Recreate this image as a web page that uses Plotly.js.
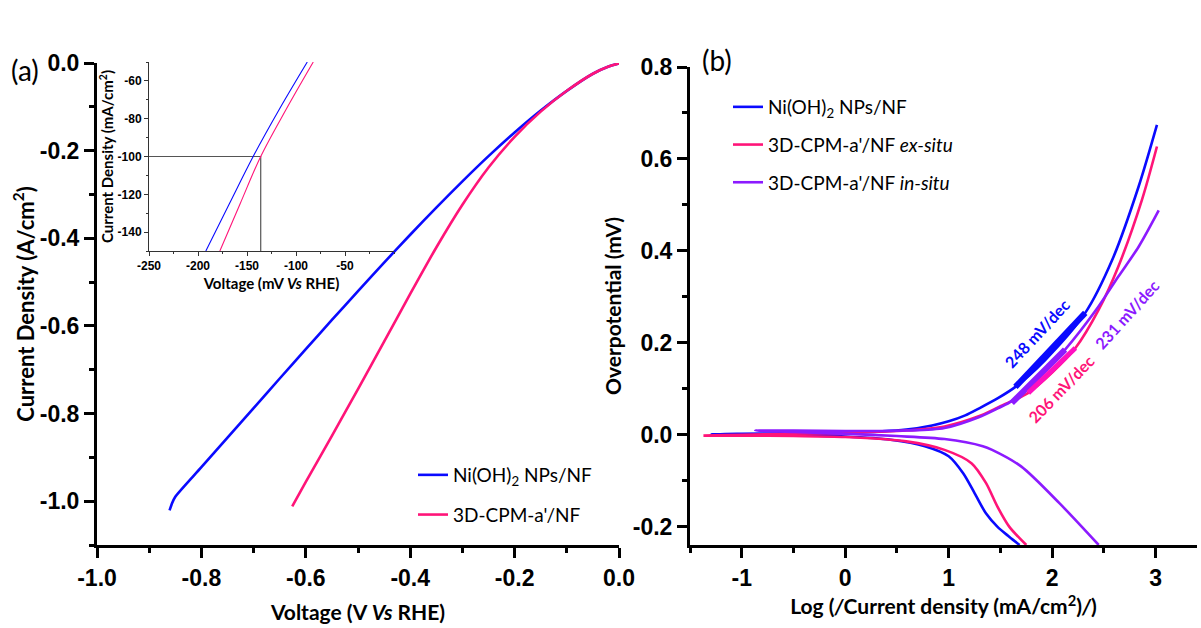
<!DOCTYPE html>
<html><head><meta charset="utf-8">
<script src="https://cdn.plot.ly/plotly-3.0.1.min.js"></script>
<style>html,body{margin:0;padding:0;background:#fff}#chart{width:1201px;height:628px}</style>
</head><body><div id="chart"></div>
<script>
// ---------- Panel (a): polarization curves ----------
const aVoltNi = [0, -0.02, -0.05, -0.1, -0.15, -0.2, -0.25, -0.3, -0.35, -0.4, -0.45, -0.5, -0.55, -0.6, -0.65, -0.7, -0.75, -0.8, -0.85, -0.856, -0.861];
const aCurNi  = [-0.001, -0.008, -0.0245, -0.0635, -0.1085, -0.1585, -0.2125, -0.270, -0.330, -0.392, -0.4555, -0.5205, -0.5865, -0.653, -0.720, -0.7875, -0.855, -0.9225, -0.990, -1.004, -1.021];
const aVoltCPM = [0, -0.02, -0.05, -0.1, -0.15, -0.2, -0.25, -0.3, -0.35, -0.4, -0.45, -0.5, -0.55, -0.6, -0.626];
const aCurCPM  = [-0.001, -0.008, -0.0245, -0.0635, -0.111, -0.1685, -0.2385, -0.3235, -0.421, -0.527, -0.636, -0.744, -0.851, -0.956, -1.012];

// inset (mV, mA/cm2)
const insetVoltNi  = [-192, -168, -143.7, -117, -88.5];
const insetCurNi   = [-150, -125, -100, -75, -50];
const insetVoltCPM = [-177.7, -157, -136, -110, -82.4];
const insetCurCPM  = [-150, -125, -100, -75, -50];
const insetRefX = [-250, -136, -136];
const insetRefY = [-100, -100, -150];

// ---------- Panel (b): Tafel plots ----------
const bLogNi = [1.685, 1.585, 1.47, 1.36, 1.25, 1.14, 1.0, 0.77, 0.44, 0.0, -0.5, -1.0, -1.3,
                -1.0, -0.5, 0.0, 0.59, 0.84, 1.0, 1.16, 1.3, 1.48, 1.645, 1.935, 2.32, 2.58, 2.836, 3.013];
const bEtaNi = [-0.24, -0.222, -0.200, -0.171, -0.127, -0.084, -0.047, -0.025, -0.011, -0.004, -0.001, 0.000, 0.001,
                0.002, 0.003, 0.004, 0.011, 0.020, 0.029, 0.042, 0.058, 0.080, 0.104, 0.163, 0.265, 0.380, 0.540, 0.674];
const bLogExSitu = [1.75, 1.585, 1.47, 1.36, 1.22, 0.96, 0.59, 0.0, -0.5, -1.0, -1.37,
                    -1.0, -0.5, 0.0, 0.59, 0.96, 1.29, 1.5, 1.77, 2.0, 2.225, 2.45, 2.64, 2.868, 3.013];
const bEtaExSitu = [-0.24, -0.200, -0.156, -0.105, -0.062, -0.033, -0.0145, -0.005, -0.003, -0.002, -0.002,
                    0.000, 0.002, 0.004, 0.009, 0.018, 0.040, 0.062, 0.091, 0.135, 0.1885, 0.272, 0.366, 0.511, 0.627];
const bLogInSitu = [2.45, 2.07, 1.70, 1.42, 1.33, 0.96, 0.5, 0.0, -0.5, -0.87,
                    -0.5, 0.0, 0.59, 0.96, 1.29, 1.48, 1.61, 1.85, 2.125, 2.42, 2.64, 2.836, 3.03];
const bEtaInSitu = [-0.24, -0.149, -0.069, -0.033, -0.025, -0.0095, -0.003, 0.002, 0.006, 0.009,
                    0.009, 0.008, 0.009, 0.0145, 0.038, 0.058, 0.073, 0.120, 0.185, 0.270, 0.344, 0.409, 0.488];
// Tafel fit segments
const fitLogNi = [1.645, 2.32],  fitEtaNi = [0.104, 0.265];
const fitLogEx = [1.77, 2.225],  fitEtaEx = [0.091, 0.1885];
const fitLogIn = [1.61, 2.125],  fitEtaIn = [0.069, 0.185];
const slopeLabels = ['248 mV/dec', '206 mV/dec', '231 mV/dec'];
const slopeLabelLog = [1.85, 2.09, 2.72];
const slopeLabelEta = [0.22, 0.10, 0.261];

// tick labels
const aXTickVals = [-1.0, -0.8, -0.6, -0.4, -0.2, 0.0];
const aXTickText = ['-1.0', '-0.8', '-0.6', '-0.4', '-0.2', '0.0'];
const aYTickVals = [0.0, -0.2, -0.4, -0.6, -0.8, -1.0];
const aYTickText = ['0.0', '-0.2', '-0.4', '-0.6', '-0.8', '-1.0'];
const iXTickVals = [-250, -200, -150, -100, -50];
const iXTickText = ['-250', '-200', '-150', '-100', '-50'];
const iYTickVals = [-140, -120, -100, -80, -60];
const iYTickText = ['-140', '-120', '-100', '-80', '-60'];
const bXTickVals = [-1, 0, 1, 2, 3];
const bXTickText = ['-1', '0', '1', '2', '3'];
const bYTickVals = [-0.2, 0.0, 0.2, 0.4, 0.6, 0.8];
const bYTickText = ['-0.2', '0.0', '0.2', '0.4', '0.6', '0.8'];

const nameNi = 'Ni(OH)<sub>2</sub> NPs/NF';
const nameCPM = "3D-CPM-a'/NF";
const nameEx = "3D-CPM-a'/NF <i>ex-situ</i>";
const nameIn = "3D-CPM-a'/NF <i>in-situ</i>";

const BLUE = '#0a0aff', PINK = '#ff1478', PURPLE = '#8c1aff', REF = '#555555';
const W = 1201, H = 628;
const px = v => v / W, py = v => 1 - v / H;

const traces = [
  {x: aVoltNi, y: aCurNi, type: 'scatter', mode: 'lines', name: nameNi, line: {color: BLUE, width: 2.6, shape: 'spline', smoothing: 0.7}, xaxis: 'x', yaxis: 'y', legend: 'legend', legendgroup: 'a1'},
  {x: aVoltCPM, y: aCurCPM, type: 'scatter', mode: 'lines', name: nameCPM, line: {color: PINK, width: 2.6, shape: 'spline', smoothing: 0.7}, xaxis: 'x', yaxis: 'y', legend: 'legend', legendgroup: 'a2'},
  {x: insetRefX, y: insetRefY, type: 'scatter', mode: 'lines', showlegend: false, line: {color: REF, width: 1.2}, xaxis: 'x2', yaxis: 'y2'},
  {x: insetVoltNi, y: insetCurNi, type: 'scatter', mode: 'lines', showlegend: false, line: {color: BLUE, width: 1.1, shape: 'spline'}, xaxis: 'x2', yaxis: 'y2'},
  {x: insetVoltCPM, y: insetCurCPM, type: 'scatter', mode: 'lines', showlegend: false, line: {color: PINK, width: 1.1, shape: 'spline'}, xaxis: 'x2', yaxis: 'y2'},
  {x: bLogNi, y: bEtaNi, type: 'scatter', mode: 'lines', name: nameNi, line: {color: BLUE, width: 2.6, shape: 'spline', smoothing: 0.8}, xaxis: 'x3', yaxis: 'y3', legend: 'legend2', legendgroup: 'b1'},
  {x: bLogExSitu, y: bEtaExSitu, type: 'scatter', mode: 'lines', name: nameEx, line: {color: PINK, width: 2.6, shape: 'spline', smoothing: 0.8}, xaxis: 'x3', yaxis: 'y3', legend: 'legend2', legendgroup: 'b2'},
  {x: bLogInSitu, y: bEtaInSitu, type: 'scatter', mode: 'lines', name: nameIn, line: {color: PURPLE, width: 2.6, shape: 'spline', smoothing: 0.8}, xaxis: 'x3', yaxis: 'y3', legend: 'legend2', legendgroup: 'b3'},
  {x: fitLogNi, y: fitEtaNi, type: 'scatter', mode: 'lines', showlegend: false, line: {color: BLUE, width: 6}, xaxis: 'x3', yaxis: 'y3'},
  {x: fitLogIn, y: fitEtaIn, type: 'scatter', mode: 'lines', showlegend: false, line: {color: PURPLE, width: 6}, xaxis: 'x3', yaxis: 'y3'},
  {x: fitLogEx, y: fitEtaEx, type: 'scatter', mode: 'lines', showlegend: false, line: {color: '#ff10c0', width: 5}, xaxis: 'x3', yaxis: 'y3'}
];

const tickFont = {family: 'Liberation Sans, Arial, sans-serif', size: 23, color: '#000', weight: 700};
const titleFont = {family: 'Lato, sans-serif', size: 21, color: '#000', weight: 700};
const mainAxis = {
  showline: true, linecolor: '#000', linewidth: 3, mirror: false, showgrid: false, zeroline: false,
  ticks: 'outside', ticklen: 10, tickwidth: 3, tickcolor: '#000', tickfont: tickFont, tickmode: 'array'
};
const insetAxis = {
  showline: true, linecolor: '#333', linewidth: 1, mirror: false, showgrid: false, zeroline: false,
  ticks: 'outside', ticklen: 4, tickwidth: 1, tickcolor: '#333',
  tickfont: {family: 'Liberation Sans, Arial, sans-serif', size: 12, color: '#000', weight: 700}, tickmode: 'array'
};

const layout = {
  width: W, height: H, margin: {l: 0, r: 0, t: 0, b: 0},
  paper_bgcolor: '#fff', plot_bgcolor: 'rgba(0,0,0,0)',
  font: {family: 'Lato, sans-serif', color: '#000'},
  xaxis: Object.assign({}, mainAxis, {domain: [px(97), px(619)], range: [-1.0, 0.0], anchor: 'y',
    tickvals: aXTickVals, ticktext: aXTickText,
    minor: {tickmode: 'linear', tick0: 0, dtick: 0.1, ticks: 'outside', ticklen: 5, tickwidth: 3, tickcolor: '#000', showgrid: false},
    title: {text: 'Voltage (V <i>Vs</i> RHE)', font: titleFont, standoff: 16}}),
  yaxis: Object.assign({}, mainAxis, {domain: [py(545), py(63)], range: [-1.1, 0.0], anchor: 'x',
    tickvals: aYTickVals, ticktext: aYTickText,
    minor: {tickmode: 'linear', tick0: 0, dtick: 0.1, ticks: 'outside', ticklen: 5, tickwidth: 3, tickcolor: '#000', showgrid: false},
    title: {text: 'Current Density (A/cm<sup>2</sup>)', font: Object.assign({}, titleFont, {size: 22}), standoff: 0}}),
  xaxis2: Object.assign({}, insetAxis, {domain: [px(149), px(394)], range: [-250, 0], anchor: 'y2',
    tickvals: iXTickVals, ticktext: iXTickText,
    minor: {tickmode: 'linear', tick0: 0, dtick: 25, ticks: 'outside', ticklen: 2, tickwidth: 1, tickcolor: '#333', showgrid: false},
    title: {text: 'Voltage (mV <i>Vs</i> RHE)', font: {family: 'Lato, sans-serif', size: 15, color: '#000', weight: 700}, standoff: 6}}),
  yaxis2: Object.assign({}, insetAxis, {domain: [py(251), py(62)], range: [-150, -50], anchor: 'x2',
    tickvals: iYTickVals, ticktext: iYTickText,
    minor: {tickmode: 'linear', tick0: 0, dtick: 10, ticks: 'outside', ticklen: 2, tickwidth: 1, tickcolor: '#333', showgrid: false},
    title: {text: 'Current Density (mA/cm<sup>2</sup>)', font: {family: 'Lato, sans-serif', size: 15, color: '#000', weight: 700}, standoff: 0}}),
  xaxis3: Object.assign({}, mainAxis, {domain: [px(690), px(1197)], range: [-1.5, 3.4], anchor: 'y3',
    tickvals: bXTickVals, ticktext: bXTickText,
    minor: {tickmode: 'linear', tick0: 0, dtick: 0.5, ticks: 'outside', ticklen: 5, tickwidth: 3, tickcolor: '#000', showgrid: false},
    title: {text: 'Log (<i>/</i>Current density (mA/cm<sup>2</sup>)<i>/</i>)', font: titleFont, standoff: 6}}),
  yaxis3: Object.assign({}, mainAxis, {domain: [py(545), py(67)], range: [-0.24, 0.8], anchor: 'x3',
    tickvals: bYTickVals, ticktext: bYTickText,
    minor: {tickmode: 'linear', tick0: 0, dtick: 0.1, ticks: 'outside', ticklen: 5, tickwidth: 3, tickcolor: '#000', showgrid: false},
    title: {text: 'Overpotential (mV)', font: titleFont, standoff: 6}}),
  legend: {x: px(413), y: py(456), xanchor: 'left', yanchor: 'top', bgcolor: 'rgba(0,0,0,0)', borderwidth: 0,
    font: {family: 'Lato, sans-serif', size: 19, color: '#000'}, tracegroupgap: 12, traceorder: 'grouped'},
  legend2: {x: px(728), y: py(88), xanchor: 'left', yanchor: 'top', bgcolor: 'rgba(0,0,0,0)', borderwidth: 0,
    font: {family: 'Lato, sans-serif', size: 19, color: '#000'}, tracegroupgap: 10, traceorder: 'grouped'},
  annotations: [
    {xref: 'paper', yref: 'paper', x: px(9), y: py(70), xanchor: 'left', yanchor: 'middle', text: '(a)', showarrow: false,
     font: {family: 'Lato, sans-serif', size: 28, color: '#000'}},
    {xref: 'paper', yref: 'paper', x: px(700), y: py(60), xanchor: 'left', yanchor: 'middle', text: '(b)', showarrow: false,
     font: {family: 'Lato, sans-serif', size: 28, color: '#000'}},
    {xref: 'x3', yref: 'y3', x: slopeLabelLog[0], y: slopeLabelEta[0], text: slopeLabels[0], textangle: -47, showarrow: false,
     font: {family: 'Lato, sans-serif', size: 16, color: BLUE, weight: 700}},
    {xref: 'x3', yref: 'y3', x: slopeLabelLog[1], y: slopeLabelEta[1], text: slopeLabels[1], textangle: -46, showarrow: false,
     font: {family: 'Lato, sans-serif', size: 16, color: PINK, weight: 700}},
    {xref: 'x3', yref: 'y3', x: slopeLabelLog[2], y: slopeLabelEta[2], text: slopeLabels[2], textangle: -48, showarrow: false,
     font: {family: 'Lato, sans-serif', size: 16, color: PURPLE, weight: 700}}
  ],
  showlegend: true
};

Plotly.newPlot('chart', traces, layout, {displayModeBar: false, staticPlot: true});
</script></body></html>
